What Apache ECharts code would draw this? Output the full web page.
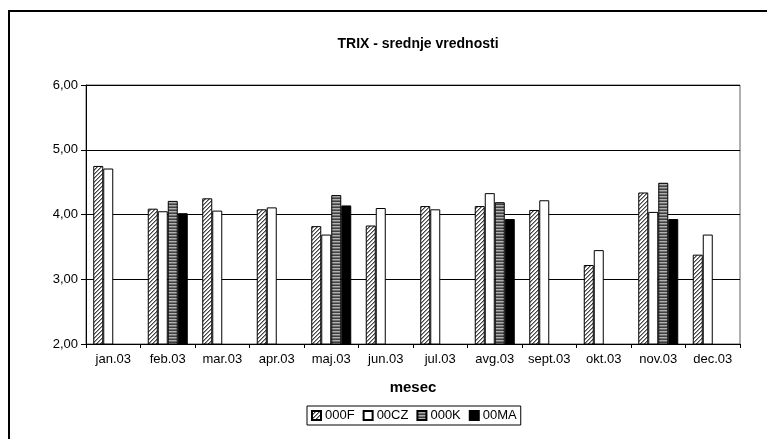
<!DOCTYPE html>
<html>
<head>
<meta charset="utf-8">
<style>
  html, body { margin: 0; padding: 0; background: #fff; }
  #chart { width: 767px; height: 439px; }
</style>
<script src="https://cdn.jsdelivr.net/npm/echarts@6/dist/echarts.min.js"></script>
</head>
<body>
<div id="chart"></div>
<script>
// Monthly averages of the TRIX index per station
const months = ['jan.03', 'feb.03', 'mar.03', 'apr.03', 'maj.03', 'jun.03',
                'jul.03', 'avg.03', 'sept.03', 'okt.03', 'nov.03', 'dec.03'];
const s000F = [4.75, 4.09, 4.25, 4.08, 3.82, 3.83, 4.13, 4.13, 4.07, 3.22, 4.34, 3.38];
const s00CZ = [4.71, 4.05, 4.06, 4.11, 3.69, 4.10, 4.08, 4.33, 4.22, 3.45, 4.04, 3.69];
const s000K = [null, 4.21, null, null, 4.30, null, null, 4.19, null, null, 4.49, null];
const s00MA = [null, 4.02, null, null, 4.14, null, null, 3.93, null, null, 3.93, null];
const yTicks = [2, 3, 4, 5, 6];

// Fill patterns for the bars
function diagonalPattern() {
  const c = document.createElement('canvas');
  c.width = 4; c.height = 4;
  const g = c.getContext('2d');
  g.fillStyle = '#ffffff';
  g.fillRect(0, 0, 4, 4);
  g.fillStyle = '#444444';
  for (let i = 0; i < 4; i++) {
    g.fillRect(i, 3 - i, 1, 1);
  }
  g.fillStyle = '#999999';
  for (let i = 0; i < 4; i++) {
    g.fillRect((i + 1) % 4, 3 - i, 1, 1);
  }
  return { image: c, repeat: 'repeat' };
}
function stripePattern() {
  const c = document.createElement('canvas');
  c.width = 4; c.height = 3;
  const g = c.getContext('2d');
  g.fillStyle = '#b0b0b0';
  g.fillRect(0, 0, 4, 3);
  g.fillStyle = '#404040';
  g.fillRect(0, 0, 4, 1);
  g.fillStyle = '#707070';
  g.fillRect(0, 2, 4, 1);
  return { image: c, repeat: 'repeat' };
}

const font = 'Liberation Sans, Arial, sans-serif';
const chart = echarts.init(document.getElementById('chart'), null, { renderer: 'canvas' });

function barSeries(name, data, fill) {
  return {
    name: name,
    type: 'bar',
    data: data,
    barWidth: 10,
    barGap: '0%',
    itemStyle: { color: fill, borderColor: '#000', borderWidth: 1 },
    emphasis: { disabled: true }
  };
}

chart.setOption({
  animation: false,
  backgroundColor: '#fff',
  textStyle: { fontFamily: font },
  title: {
    text: 'TRIX - srednje vrednosti',
    left: 413, top: 32,
    textAlign: 'center',
    textStyle: { fontFamily: font, fontSize: 14, fontWeight: 'bold', color: '#000' }
  },
  graphic: [{
    type: 'rect',
    shape: { x: 9, y: 11, width: 820, height: 500 },
    style: { fill: 'none', stroke: '#000', lineWidth: 2 },
    silent: true
  }],
  legend: {
    bottom: 14,
    left: 307,
    itemWidth: 9, itemHeight: 9, itemGap: 8,
    padding: [3, 4, 3, 4],
    borderColor: '#000', borderWidth: 1,
    icon: 'rect',
    textStyle: { fontFamily: font, fontSize: 13, color: '#000', padding: [0, 0, 0, -1] },
    data: ['000F', '00CZ', '000K', '00MA']
  },
  grid: {
    left: 86, right: 27, top: 85, bottom: 95,
    show: true, borderColor: '#606060', borderWidth: 1
  },
  xAxis: {
    type: 'category',
    data: months,
    name: 'mesec',
    nameLocation: 'middle',
    nameGap: 36,
    nameTextStyle: { fontFamily: font, fontSize: 15, fontWeight: 'bold', color: '#000' },
    axisLine: { lineStyle: { color: '#000', width: 1 } },
    axisTick: { show: true, length: 4, lineStyle: { color: '#000' } },
    axisLabel: { fontFamily: font, fontSize: 13, color: '#000', margin: 9, interval: 0 },
    splitLine: { show: false }
  },
  yAxis: {
    type: 'value',
    min: yTicks[0], max: yTicks[yTicks.length - 1], interval: 1,
    axisLine: { show: true, lineStyle: { color: '#000', width: 1 } },
    axisTick: { show: true, length: 5, lineStyle: { color: '#000' } },
    axisLabel: {
      fontFamily: font, fontSize: 13, color: '#000', margin: 8,
      formatter: v => v.toFixed(2).replace('.', ',')
    },
    splitLine: { show: true, lineStyle: { color: '#000', width: 1 } }
  },
  series: [
    barSeries('000F', s000F, diagonalPattern()),
    barSeries('00CZ', s00CZ, '#ffffff'),
    barSeries('000K', s000K, stripePattern()),
    barSeries('00MA', s00MA, '#000000')
  ]
});
</script>
</body>
</html>
